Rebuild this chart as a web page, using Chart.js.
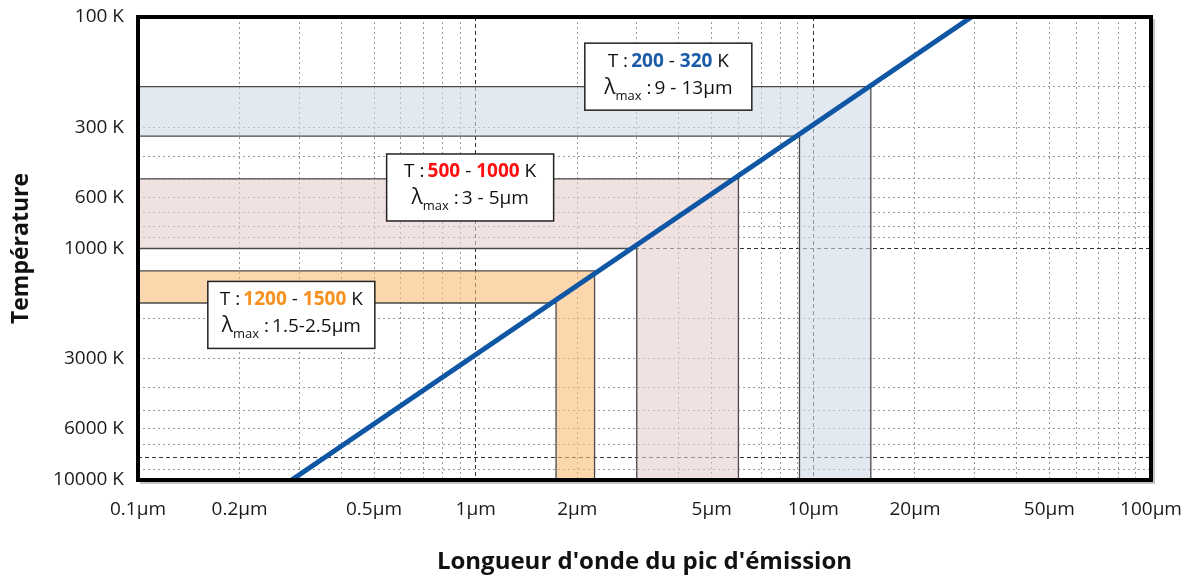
<!DOCTYPE html>
<html>
<head>
<meta charset="utf-8">
<script src="https://cdn.jsdelivr.net/npm/chart.js@4.4.0/dist/chart.umd.min.js"></script>
<style>
html, body { margin: 0; padding: 0; background: #fff; }
#wrap { width: 1192px; height: 579px; }
</style>
</head>
<body>
<div id="wrap"><canvas id="chart" width="1192" height="579"></canvas></div>
<script>
// axis ticks
var xDecades = [0.1, 1, 10];
var yDecades = [100, 1000];
var gridSteps = [1, 2, 3, 4, 5, 6, 7, 8, 9];
var xLabelValues = [0.1, 0.2, 0.5, 1, 2, 5, 10, 20, 50, 100];
var xTickLabels = ['0.1µm', '0.2µm', '0.5µm', '1µm', '2µm', '5µm', '10µm', '20µm', '50µm', '100µm'];
var yLabelValues = [100, 300, 600, 1000, 3000, 6000, 10000];
var yTickLabels = ['100 K', '300 K', '600 K', '1000 K', '3000 K', '6000 K', '10000 K'];
var xMajorLines = [1, 10];
var yMajorLines = [1000, 8000];

// Wien line (peak wavelength vs temperature)
var wienLambda = [0.285, 29.4];
var wienTemp = [10000, 100];

// bands: horizontal strip between tempLow/tempHigh, vertical strip between lambdaLow/lambdaHigh
var bandTempLow = [200, 500, 1250];
var bandTempHigh = [327, 1000, 1720];
var bandLambdaLow = [9.1, 3.0, 1.73];
var bandLambdaHigh = [14.8, 6.0, 2.25];
var bandFills = ['rgba(208,218,232,0.6)', 'rgba(232,206,206,0.6)', 'rgba(250,186,116,0.6)'];

// band label boxes
var boxTemps = [['200', '320'], ['500', '1000'], ['1200', '1500']];
var boxLambda = ['9 - 13µm', '3 - 5µm', '1.5-2.5µm'];
var boxColors = ['#1b5ca8', '#ff1010', '#f7901e'];
var boxAtLambda = [3.72, 0.963, 0.2845];
var boxAtTemp = [181, 545, 1936];

function clean(v) { return Number(v.toPrecision(6)); }

function gridValues(decades) {
    let out = [];
    decades.forEach(d => gridSteps.forEach(s => out.push(clean(d * s))));
    out.push(clean(decades[decades.length - 1] * 10));
    return out;
}

function pickLabel(value, values, labels) {
    let i = values.findIndex(v => Math.abs(v - value) / v < 1e-6);
    return i < 0 ? '' : labels[i];
}

function isIn(value, list) {
    return list.some(v => Math.abs(v - value) / v < 1e-6);
}

let xGrid = gridValues(xDecades);
let yGrid = gridValues(yDecades);

let datasets = [{
    data: wienLambda.map((l, i) => ({x: l, y: wienTemp[i]})),
    borderColor: '#0f56a5',
    borderWidth: 5,
    pointRadius: 0,
    fill: false
}];

for (let i = 0; i < bandTempLow.length; i++) {
    let pts = [
        [0.1, bandTempLow[i]],
        [bandLambdaHigh[i], bandTempLow[i]],
        [bandLambdaHigh[i], 10000],
        [bandLambdaLow[i], 10000],
        [bandLambdaLow[i], bandTempHigh[i]],
        [0.1, bandTempHigh[i]],
        [0.1, bandTempLow[i]]
    ];
    datasets.push({
        data: pts.map(p => ({x: p[0], y: p[1]})),
        borderColor: '#4a4a4a',
        borderWidth: 1.3,
        backgroundColor: bandFills[i],
        pointRadius: 0,
        tension: 0,
        fill: 'shape'
    });
}

function drawSegs(ctx, segs, cx, baseline) {
    let total = 0;
    segs.forEach(s => {
        ctx.font = (s.bold ? 'bold ' : '') + s.size + "px 'Open Sans', sans-serif";
        s.w = ctx.measureText(s.t).width;
        total += s.w;
    });
    let x = cx - total / 2;
    segs.forEach(s => {
        ctx.font = (s.bold ? 'bold ' : '') + s.size + "px 'Open Sans', sans-serif";
        ctx.fillStyle = s.color || '#111';
        ctx.fillText(s.t, x, baseline + (s.dy || 0));
        x += s.w;
    });
}

const boxPlugin = {
    id: 'bandBoxes',
    afterDatasetsDraw(chart) {
        const ctx = chart.ctx;
        const xs = chart.scales.x, ys = chart.scales.y;
        ctx.save();
        for (let i = 0; i < boxAtLambda.length; i++) {
            let cx = xs.getPixelForValue(boxAtLambda[i]);
            let cy = ys.getPixelForValue(boxAtTemp[i]);
            let w = 167, h = 67;
            ctx.fillStyle = '#fff';
            ctx.fillRect(cx - w / 2, cy - h / 2, w, h);
            ctx.strokeStyle = '#222';
            ctx.lineWidth = 1.5;
            ctx.strokeRect(cx - w / 2, cy - h / 2, w, h);
            ctx.textBaseline = 'alphabetic';
            ctx.textAlign = 'left';
            drawSegs(ctx, [
                {t: 'T :\u2009', size: 19},
                {t: boxTemps[i][0], size: 19, bold: true, color: boxColors[i]},
                {t: ' - ', size: 19},
                {t: boxTemps[i][1], size: 19, bold: true, color: boxColors[i]},
                {t: ' K', size: 19}
            ], cx, cy - 10);
            drawSegs(ctx, [
                {t: 'λ', size: 21},
                {t: 'max', size: 13, dy: 6},
                {t: ' :\u2009', size: 19},
                {t: boxLambda[i], size: 19}
            ], cx, cy + 17);
        }
        ctx.restore();
    },
    afterDraw(chart) {
        const ctx = chart.ctx;
        const a = chart.chartArea;
        ctx.save();
        // soft shadow right and bottom of the frame
        ctx.strokeStyle = '#c4c4c4';
        ctx.lineWidth = 2;
        ctx.beginPath();
        ctx.moveTo(a.right + 3, a.top + 2);
        ctx.lineTo(a.right + 3, a.bottom + 3);
        ctx.lineTo(a.left + 2, a.bottom + 3);
        ctx.stroke();
        ctx.strokeStyle = '#000';
        ctx.lineWidth = 4;
        ctx.strokeRect(a.left, a.top, a.right - a.left, a.bottom - a.top);
        ctx.restore();
    }
};

Chart.defaults.font.family = "'Open Sans', sans-serif";
Chart.defaults.color = '#1a1a1a';

new Chart(document.getElementById('chart'), {
    type: 'line',
    data: {datasets: datasets},
    options: {
        responsive: false,
        animation: false,
        devicePixelRatio: 1,
        layout: {padding: {top: 17, right: 41, left: 0, bottom: 0}},
        plugins: {legend: {display: false}, tooltip: {enabled: false}},
        scales: {
            x: {
                type: 'logarithmic',
                min: 0.1,
                max: 100,
                afterBuildTicks: s => { s.ticks = xGrid.map(v => ({value: v})); },
                afterFit: s => { s.height = 99; s.paddingLeft = 0; s.paddingRight = 0; },
                ticks: {
                    autoSkip: false,
                    maxRotation: 0,
                    padding: 18,
                    color: '#1a1a1a',
                    font: {size: 19},
                    callback: v => pickLabel(v, xLabelValues, xTickLabels)
                },
                grid: {
                    drawTicks: false,
                    lineWidth: 1,
                    color: c => isIn(c.tick.value, xMajorLines) ? '#333' : '#9a9a9a'
                },
                border: {
                    display: false,
                    dash: c => isIn(c.tick.value, xMajorLines) ? [4, 3] : [2, 3]
                },
                title: {
                    display: true,
                    text: "Longueur d'onde du pic d'émission",
                    color: '#111',
                    font: {size: 24, weight: 'bold'},
                    padding: {top: 0, bottom: 2.5}
                }
            },
            y: {
                type: 'logarithmic',
                reverse: true,
                min: 100,
                max: 10000,
                afterBuildTicks: s => { s.ticks = yGrid.map(v => ({value: v})); },
                afterFit: s => { s.width = 138; s.paddingTop = 0; s.paddingBottom = 0; },
                ticks: {
                    autoSkip: false,
                    padding: 14,
                    color: '#1a1a1a',
                    font: {size: 19},
                    callback: v => pickLabel(v, yLabelValues, yTickLabels)
                },
                grid: {
                    drawTicks: false,
                    lineWidth: 1,
                    color: c => isIn(c.tick.value, yMajorLines) ? '#333' : '#9a9a9a'
                },
                border: {
                    display: false,
                    dash: c => isIn(c.tick.value, yMajorLines) ? [4, 3] : [2, 3]
                },
                title: {
                    display: true,
                    text: 'Température',
                    color: '#111',
                    font: {size: 23, weight: 'bold'},
                    padding: {top: 8, bottom: 0}
                }
            }
        }
    },
    plugins: [boxPlugin]
});
</script>
</body>
</html>
